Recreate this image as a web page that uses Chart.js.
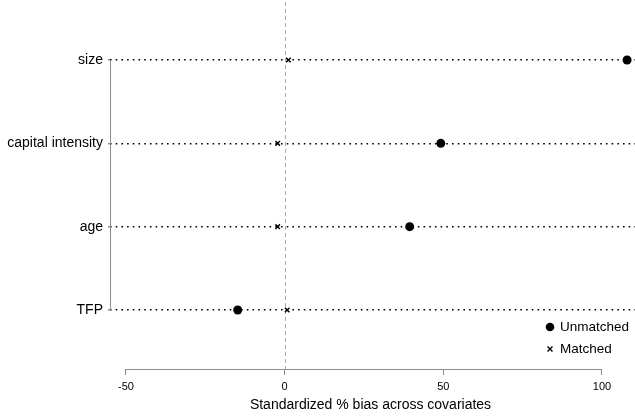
<!DOCTYPE html>
<html>
<head>
<meta charset="utf-8">
<script src="https://cdn.jsdelivr.net/npm/chart.js@4/dist/chart.umd.min.js"></script>
<style>
  html, body { margin: 0; padding: 0; background: #fff; }
  #wrap { width: 635px; height: 417px; }
</style>
</head>
<body>
<div id="wrap"><canvas id="myChart" width="635" height="417"></canvas></div>
<script>
// covariates, top to bottom
const covariates = ["size", "capital intensity", "age", "TFP"];
const unmatched = [107.9, 49.2, 39.4, -14.8];
const matched = [1.2, -2.2, -2.2, 0.8];
const xTicks = [-50, 0, 50, 100];
const seriesNames = ["Unmatched", "Matched"];
const axisTitle = "Standardized % bias across covariates";

const fontName = "'Liberation Sans', Arial, sans-serif";

// row position: first covariate on top
const rowOf = (i) => covariates.length - i;

const toPoints = (values) => values.map((v, i) => ({ x: v, y: rowOf(i) }));

// reference line at zero, axis lines only across the tick range, legend, title
const extras = {
  id: "extras",
  beforeDatasetsDraw(chart) {
    const { ctx, chartArea, scales } = chart;
    const x = scales.x;
    const y = scales.y;
    ctx.save();
    // dashed zero line
    ctx.strokeStyle = "#a8a8a8";
    ctx.lineWidth = 1;
    ctx.setLineDash([4, 3]);
    const x0 = Math.round(x.getPixelForValue(0)) + 0.5;
    ctx.beginPath();
    ctx.moveTo(x0, chartArea.top + 2);
    ctx.lineTo(x0, chartArea.bottom);
    ctx.stroke();
    ctx.setLineDash([]);

    // y axis line
    ctx.strokeStyle = "#8c8c8c";
    const xl = chartArea.left + 0.5;
    ctx.beginPath();
    ctx.moveTo(xl, y.getPixelForValue(covariates.length));
    ctx.lineTo(xl, y.getPixelForValue(1));
    ctx.stroke();

    // x axis line
    const yb = chartArea.bottom + 0.5;
    ctx.beginPath();
    ctx.moveTo(x.getPixelForValue(xTicks[0]), yb);
    ctx.lineTo(x.getPixelForValue(xTicks[xTicks.length - 1]), yb);
    ctx.stroke();
    ctx.restore();
  },
  afterDraw(chart) {
    const { ctx, chartArea } = chart;
    ctx.save();
    // axis title
    ctx.fillStyle = "#000";
    ctx.font = "14px " + fontName;
    ctx.textAlign = "center";
    ctx.textBaseline = "middle";
    ctx.fillText(axisTitle, (chartArea.left + chartArea.right) / 2 - 2, 405);

    // legend
    ctx.textAlign = "left";
    ctx.font = "13.5px " + fontName;
    const lx = 550;
    const ly = [327, 349];
    ctx.beginPath();
    ctx.arc(lx, ly[0], 4.3, 0, Math.PI * 2);
    ctx.fill();
    ctx.strokeStyle = "#000";
    ctx.lineWidth = 1.4;
    ctx.beginPath();
    ctx.moveTo(lx - 2.5, ly[1] - 2.5);
    ctx.lineTo(lx + 2.5, ly[1] + 2.5);
    ctx.moveTo(lx + 2.5, ly[1] - 2.5);
    ctx.lineTo(lx - 2.5, ly[1] + 2.5);
    ctx.stroke();
    ctx.fillText(seriesNames[0], lx + 10, ly[0]);
    ctx.fillText(seriesNames[1], lx + 10, ly[1]);
    ctx.restore();
  }
};

new Chart("myChart", {
  type: "scatter",
  data: {
    datasets: [
      {
        label: seriesNames[0],
        data: toPoints(unmatched),
        pointStyle: "circle",
        pointRadius: 4.5,
        backgroundColor: "#000",
        borderColor: "#000",
        borderWidth: 0,
      },
      {
        label: seriesNames[1],
        data: toPoints(matched),
        pointStyle: "crossRot",
        pointRadius: 3.2,
        backgroundColor: "#000",
        borderColor: "#000",
        borderWidth: 1.5,
      },
    ],
  },
  options: {
    responsive: false,
    animation: false,
    events: [],
    layout: { padding: 0, autoPadding: false },
    plugins: {
      legend: { display: false },
      tooltip: { enabled: false },
    },
    scales: {
      x: {
        type: "linear",
        min: -55.04,
        max: 110.4,
        afterBuildTicks: (scale) => {
          scale.ticks = xTicks.map((v) => ({ value: v }));
        },
        afterFit: (scale) => {
          scale.height = 48;
          scale.paddingLeft = 0;
          scale.paddingRight = 0;
        },
        border: { display: false },
        grid: {
          drawOnChartArea: false,
          drawTicks: true,
          tickLength: 6,
          tickColor: "#8c8c8c",
          tickWidth: 1,
        },
        ticks: {
          color: "#000",
          font: { family: fontName, size: 11 },
          padding: 5,
          maxRotation: 0,
        },
      },
      y: {
        type: "linear",
        min: 0.292,
        max: 4.72,
        afterBuildTicks: (scale) => {
          scale.ticks = covariates.map((c, i) => ({ value: rowOf(i) }));
        },
        afterFit: (scale) => {
          scale.width = 110;
          scale.paddingTop = 0;
          scale.paddingBottom = 0;
        },
        border: { display: false, dash: [1.6, 4.1] },
        grid: {
          color: "#000",
          lineWidth: 1.4,
          drawTicks: true,
          tickLength: 2,
          tickColor: "#8c8c8c",
        },
        ticks: {
          color: "#000",
          font: { family: fontName, size: 14 },
          padding: 5,
          callback: (value) => covariates[covariates.length - value],
        },
      },
    },
  },
  plugins: [extras],
});
</script>
</body>
</html>
